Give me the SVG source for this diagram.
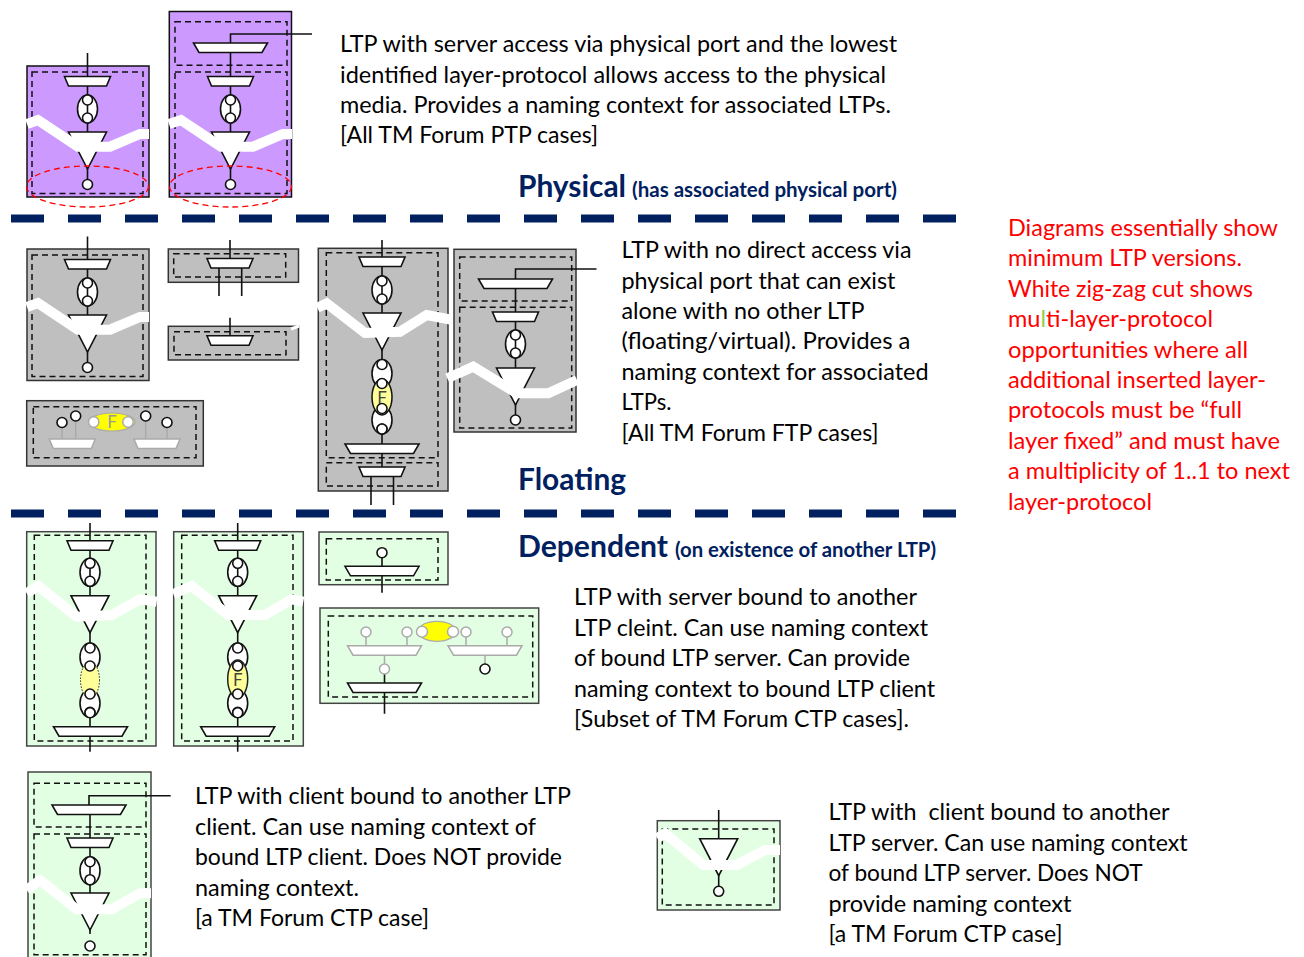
<svg xmlns="http://www.w3.org/2000/svg" width="1304" height="957" viewBox="0 0 1304 957">
<style>
text{font-family:"Lato","Open Sans","Liberation Sans",sans-serif}
.b{font-size:22.2px;fill:#000}
.r{font-size:22.2px;fill:#f00}
.h{font-size:29.5px;font-weight:700;fill:#002060}
.s{font-size:20px;font-weight:700;fill:#002060}
.f{font-size:17px;text-anchor:middle}
.l{fill:none;stroke:#111;stroke-width:1.6}
.g{fill:none;stroke:#aaa;stroke-width:1.5}
.sym{fill:#fff;stroke:#111;stroke-width:1.6}
.gs{fill:#fff;stroke:#aaa;stroke-width:1.5}
.pu{fill:#cc99ff;stroke:#111;stroke-width:1.5}
.gr{fill:#bfbfbf;stroke:#333;stroke-width:1.5}
.gn{fill:#e3ffe3;stroke:#444;stroke-width:1.5}
.d{fill:none;stroke:#111;stroke-width:1.5;stroke-dasharray:6 4}
.z{fill:none;stroke:#fff;stroke-width:10}
.c{fill:none;stroke:#002060;stroke-width:8;stroke-dasharray:33 24}
</style>
<defs>
<path id="T" d="M-23 0H23L19 9.500H-19Z"/>
<path id="W" d="M-37 0H37L31.500 9.500H-31.500Z"/>
<path id="V" d="M-19 0H19L0 37Z"/>
<g id="O">
<ellipse cx="0" cy="0" rx="10" ry="14" class="sym"/>
<path d="M0-9V9" class="l"/>
<circle cx="0" cy="-9" r="5" class="sym"/>
<circle cx="0" cy="9" r="5" class="sym"/>
</g>
<g id="U">
<ellipse cx="0" cy="0" rx="10" ry="14" class="sym"/>
<circle cx="0" cy="-9" r="5" class="sym"/>
</g>
<g id="D">
<ellipse cx="0" cy="0" rx="10" ry="14" class="sym"/>
<circle cx="0" cy="9" r="5" class="sym"/>
</g>
</defs>

<g id="connectors">
<path class="c" d="M11 218.500H956M11 513.500H956"/>
</g>

<g id="node-physical-1">
<rect class="pu" x="27" y="66" width="122" height="131"/>
<rect class="d" x="32" y="72" width="111" height="121.500"/>
<path class="l" d="M87.500 53V180"/>
<use href="#T" class="sym" x="87.500" y="76.500"/>
<use href="#O" x="87.500" y="109"/>
<use href="#V" class="sym" x="87.500" y="132"/>
<circle class="sym" cx="87.500" cy="184.500" r="5"/>
<path class="z" d="M27 124L38 120L78 146.700H110L140 134H149"/>
<ellipse cx="87.500" cy="186.500" rx="61" ry="20.500" fill="none" stroke="#f00" stroke-width="1.300" stroke-dasharray="6 4"/>
</g>

<g id="node-physical-2">
<rect class="pu" x="169.300" y="11.500" width="122.200" height="185.500"/>
<rect class="d" x="175" y="21.700" width="112" height="43.500"/>
<rect class="d" x="175" y="72" width="112" height="121.500"/>
<path class="l" d="M312 34H230.500V180"/>
<use href="#W" class="sym" x="230.500" y="43"/>
<use href="#T" class="sym" x="230.500" y="76.500"/>
<use href="#O" x="230.500" y="109"/>
<use href="#V" class="sym" x="230.500" y="132"/>
<circle class="sym" cx="230.500" cy="184.500" r="5"/>
<path class="z" d="M169 124L181 120L221 146.700H253L283 134H292"/>
<ellipse cx="230.500" cy="186.500" rx="61" ry="20.500" fill="none" stroke="#f00" stroke-width="1.300" stroke-dasharray="6 4"/>
</g>

<g id="node-floating-1">
<rect class="gr" x="27" y="249" width="122" height="131.500"/>
<rect class="d" x="32" y="255" width="111" height="121.500"/>
<path class="l" d="M87.500 236.500V363"/>
<use href="#T" class="sym" x="87.500" y="259.500"/>
<use href="#O" x="87.500" y="292"/>
<use href="#V" class="sym" x="87.500" y="315"/>
<circle class="sym" cx="87.500" cy="367.500" r="5"/>
<path class="z" d="M27 307L38 303L78 329.700H110L140 317H149"/>
</g>

<g id="node-floating-2">
<rect class="gr" x="168.300" y="249" width="130.200" height="33.300"/>
<rect class="d" x="173.700" y="253.700" width="112" height="23.300"/>
<path class="l" d="M230 240V259M219 267.700V296M241.700 267.700V296"/>
<use href="#T" class="sym" x="230" y="258.500"/>
</g>

<g id="node-floating-3">
<rect class="gr" x="168.300" y="326.300" width="130.200" height="33.700"/>
<rect class="d" x="174" y="331.700" width="112" height="23"/>
<path class="l" d="M230 317.700V336"/>
<use href="#T" class="sym" x="230" y="335.700"/>
<path d="M291 329L299 326" fill="none" stroke="#fff" stroke-width="3"/>
</g>

<g id="node-floating-4">
<rect class="gr" x="26.700" y="400.700" width="176.600" height="65.300"/>
<rect class="d" x="33.300" y="406.700" width="162.700" height="51"/>
<path class="g" d="M62 428V439M75.700 421V439M145.700 421V439M167 428V439"/>
<use href="#T" class="gs" x="72.300" y="439"/>
<use href="#T" class="gs" x="157" y="439"/>
<ellipse cx="112" cy="422" rx="23" ry="9" fill="#ffff00" stroke="#aaa" stroke-width="1.200"/>
<text class="f" x="112" y="428" fill="#999">F</text>
<circle class="sym" cx="62" cy="422.500" r="5"/>
<circle class="sym" cx="75.700" cy="416" r="5"/>
<circle class="sym" cx="145.700" cy="416" r="5"/>
<circle class="sym" cx="167" cy="422.500" r="5"/>
<circle class="gs" cx="93.700" cy="422" r="5.200"/>
<circle class="gs" cx="128" cy="422" r="5.200"/>
</g>

<g id="node-floating-5">
<rect class="gr" x="318.300" y="248.300" width="129.700" height="242.700"/>
<rect class="d" x="326.300" y="252.700" width="111.700" height="205"/>
<rect class="d" x="326.300" y="462.700" width="111.700" height="23.300"/>
<path class="l" d="M382 240V467M371 476V505M393.500 476V505"/>
<use href="#T" class="sym" x="382" y="257"/>
<use href="#O" x="382" y="290"/>
<use href="#V" class="sym" x="382" y="313"/>
<use href="#U" x="382" y="373.500"/>
<use href="#D" x="382" y="420"/>
<ellipse cx="382" cy="397" rx="10" ry="18" fill="#ffff99" stroke="#111" stroke-width="1.500"/>
<text class="f" x="382" y="403.500" fill="#444">F</text>
<circle class="sym" cx="382" cy="383.500" r="5"/>
<circle class="sym" cx="382" cy="408.500" r="5"/>
<circle class="sym" cx="382" cy="429" r="5"/>
<use href="#W" class="sym" x="382" y="444"/>
<use href="#T" class="sym" x="382" y="467"/>
<path class="z" d="M317.300 307.700L326.700 303.300L365 333L400 331.700L426.700 315L453 320"/>
</g>

<g id="node-floating-6">
<rect class="gr" x="454" y="249.300" width="122" height="182.700"/>
<rect class="d" x="459.700" y="257" width="112" height="44"/>
<rect class="d" x="459.700" y="307.300" width="112" height="120.700"/>
<path class="l" d="M596.500 269H515.500V415"/>
<use href="#W" class="sym" x="515.500" y="279"/>
<use href="#T" class="sym" x="515.500" y="312"/>
<use href="#O" x="515.500" y="344"/>
<use href="#V" class="sym" x="515.500" y="368"/>
<circle class="sym" cx="515.500" cy="420" r="5"/>
<path class="z" d="M447.300 378.300L473.300 366.700L516.700 393.300H548.300L577 380"/>
</g>

<g id="node-dependent-1">
<rect class="gn" x="26.700" y="531.700" width="129.300" height="214.300"/>
<rect class="d" x="34.300" y="535.300" width="111.700" height="205.700"/>
<path class="l" d="M90 523V751.700"/>
<use href="#T" class="sym" x="90" y="540.700"/>
<use href="#O" x="90" y="572.300"/>
<use href="#V" class="sym" x="90" y="595.700"/>
<use href="#U" x="90" y="657"/>
<use href="#D" x="90" y="703.300"/>
<ellipse cx="90" cy="680" rx="9.500" ry="18" fill="#ffff99" stroke="#222" stroke-width="1" stroke-dasharray="1.500 1.500"/>
<circle class="sym" cx="90" cy="666" r="5"/>
<circle class="sym" cx="90" cy="694" r="5"/>
<circle class="sym" cx="90" cy="712.700" r="5"/>
<use href="#W" class="sym" x="90.500" y="726.700"/>
<path class="z" d="M26.700 593.300L38.300 586L76.700 616.700L111.700 615L140 599.300L156.700 601.700"/>
</g>

<g id="node-dependent-2">
<rect class="gn" x="173.700" y="531.700" width="129.600" height="214.300"/>
<rect class="d" x="181.700" y="535.300" width="111.300" height="205.700"/>
<path class="l" d="M237.700 523V751.700"/>
<use href="#T" class="sym" x="237.700" y="540.700"/>
<use href="#O" x="237.700" y="572.300"/>
<use href="#V" class="sym" x="237.700" y="595.700"/>
<use href="#U" x="237.700" y="657"/>
<use href="#D" x="237.700" y="703.300"/>
<ellipse cx="237.700" cy="679" rx="10" ry="19" fill="#ffff99" stroke="#222" stroke-width="1.500"/>
<text class="f" x="237.700" y="685.500" fill="#444">F</text>
<circle class="sym" cx="237.700" cy="666" r="5"/>
<circle class="sym" cx="237.700" cy="694" r="5"/>
<circle class="sym" cx="237.700" cy="712.700" r="5"/>
<use href="#W" class="sym" x="237.700" y="726.700"/>
<path class="z" d="M173.300 594L191.700 586L228.300 615H265L291.700 599.300L303.300 601.700"/>
</g>

<g id="node-dependent-3">
<rect class="gn" x="319" y="532" width="129" height="52.700"/>
<rect class="d" x="326.300" y="538.700" width="111.700" height="41.300"/>
<path class="l" d="M382 557V566.500M382 576V592.700"/>
<circle class="sym" cx="382" cy="552.700" r="5"/>
<use href="#W" class="sym" x="382" y="566.300"/>
</g>

<g id="node-dependent-4">
<rect class="gn" x="320" y="608" width="218.700" height="95.300"/>
<rect class="d" x="328.300" y="616" width="204.400" height="81"/>
<path class="g" d="M366 637V646M407 637V646M466 637V646M507 637V646M384.500 655V664M485 655V664"/>
<path class="l" d="M384.500 674V683M384.500 692V713.700"/>
<use href="#W" class="gs" x="384.500" y="645.700"/>
<use href="#W" class="gs" x="485" y="645.700"/>
<ellipse cx="437" cy="631.300" rx="19" ry="10" fill="#ffff00" stroke="#aaa" stroke-width="1.200"/>
<circle class="gs" cx="366" cy="632" r="5"/>
<circle class="gs" cx="407" cy="632" r="5"/>
<circle class="gs" cx="466" cy="632" r="5"/>
<circle class="gs" cx="507" cy="632" r="5"/>
<circle class="gs" cx="422" cy="631.700" r="5.500"/>
<circle class="gs" cx="453" cy="631.700" r="5.500"/>
<circle class="gs" cx="384.500" cy="669" r="5"/>
<circle class="sym" cx="485" cy="669" r="5"/>
<use href="#W" class="sym" x="384.500" y="683"/>
</g>

<g id="node-dependent-5">
<rect class="gn" x="28" y="772" width="123" height="190"/>
<rect class="d" x="34" y="783.300" width="112" height="43.700"/>
<rect class="d" x="34" y="834" width="112" height="120.700"/>
<path class="l" d="M170.700 795.700H89V805M90 814V934"/>
<use href="#W" class="sym" x="89" y="805"/>
<use href="#T" class="sym" x="90" y="838"/>
<use href="#O" x="90" y="870.700"/>
<use href="#V" class="sym" x="90" y="893"/>
<circle class="sym" cx="90" cy="946" r="5"/>
<path class="z" d="M26.700 890L40 880L76.700 909.300H111.700L140 893.300H151"/>
</g>

<g id="node-dependent-6">
<rect class="gn" x="657.300" y="820.700" width="122.700" height="89.300"/>
<rect class="d" x="662.300" y="829" width="111.700" height="76"/>
<path class="l" d="M718.700 810V887"/>
<use href="#V" class="sym" x="718.700" y="838.700"/>
<circle class="sym" cx="718.700" cy="891.300" r="5"/>
<path class="z" d="M657.300 838.300L665 833.300L703.300 865H736.700L765 850H780"/>
</g>

<g id="labels">
<text class="b" x="340" y="52" textLength="557" lengthAdjust="spacingAndGlyphs">LTP with server access via physical port and the lowest</text>
<text class="b" x="340" y="82.500" textLength="546" lengthAdjust="spacingAndGlyphs">identified layer-protocol allows access to the physical</text>
<text class="b" x="340" y="113" textLength="551" lengthAdjust="spacingAndGlyphs">media. Provides a naming context for associated LTPs.</text>
<text class="b" x="340" y="143" textLength="258" lengthAdjust="spacingAndGlyphs">[All TM Forum PTP cases]</text>

<text class="h" x="518" y="197" textLength="108" lengthAdjust="spacingAndGlyphs">Physical</text>
<text class="s" x="632" y="197" textLength="265" lengthAdjust="spacingAndGlyphs">(has associated physical port)</text>

<text class="b" x="621.500" y="258" textLength="290" lengthAdjust="spacingAndGlyphs">LTP with no direct access via</text>
<text class="b" x="621.500" y="288.500" textLength="274" lengthAdjust="spacingAndGlyphs">physical port that can exist</text>
<text class="b" x="621.500" y="319" textLength="243" lengthAdjust="spacingAndGlyphs">alone with no other LTP</text>
<text class="b" x="621.500" y="349" textLength="289" lengthAdjust="spacingAndGlyphs">(floating/virtual). Provides a</text>
<text class="b" x="621.500" y="379.500" textLength="307" lengthAdjust="spacingAndGlyphs">naming context for associated</text>
<text class="b" x="621.500" y="410" textLength="50" lengthAdjust="spacingAndGlyphs">LTPs.</text>
<text class="b" x="621.500" y="440.500" textLength="257" lengthAdjust="spacingAndGlyphs">[All TM Forum FTP cases]</text>

<text class="h" x="518" y="490" textLength="108" lengthAdjust="spacingAndGlyphs">Floating</text>
<text class="h" x="518" y="557" textLength="150" lengthAdjust="spacingAndGlyphs">Dependent</text>
<text class="s" x="675" y="557" textLength="261" lengthAdjust="spacingAndGlyphs">(on existence of another LTP)</text>

<text class="b" x="574" y="605" textLength="343" lengthAdjust="spacingAndGlyphs">LTP with server bound to another</text>
<text class="b" x="574" y="635.500" textLength="354" lengthAdjust="spacingAndGlyphs">LTP cleint. Can use naming context</text>
<text class="b" x="574" y="666" textLength="336" lengthAdjust="spacingAndGlyphs">of bound LTP server. Can provide</text>
<text class="b" x="574" y="696.500" textLength="361" lengthAdjust="spacingAndGlyphs">naming context to bound LTP client</text>
<text class="b" x="574" y="727" textLength="335" lengthAdjust="spacingAndGlyphs">[Subset of TM Forum CTP cases].</text>

<text class="b" x="195" y="804" textLength="376" lengthAdjust="spacingAndGlyphs">LTP with client bound to another LTP</text>
<text class="b" x="195" y="834.500" textLength="341" lengthAdjust="spacingAndGlyphs">client. Can use naming context of</text>
<text class="b" x="195" y="865" textLength="367" lengthAdjust="spacingAndGlyphs">bound LTP client. Does NOT provide</text>
<text class="b" x="195" y="895.500" textLength="164" lengthAdjust="spacingAndGlyphs">naming context.</text>
<text class="b" x="195" y="926" textLength="234" lengthAdjust="spacingAndGlyphs">[a TM Forum CTP case]</text>

<text class="b" x="828.500" y="820" textLength="341" lengthAdjust="spacingAndGlyphs" style="white-space:pre">LTP with  client bound to another</text>
<text class="b" x="828.500" y="850.500" textLength="359" lengthAdjust="spacingAndGlyphs">LTP server. Can use naming context</text>
<text class="b" x="828.500" y="881" textLength="314" lengthAdjust="spacingAndGlyphs">of bound LTP server. Does NOT</text>
<text class="b" x="828.500" y="911.500" textLength="243" lengthAdjust="spacingAndGlyphs">provide naming context</text>
<text class="b" x="828.500" y="942" textLength="234" lengthAdjust="spacingAndGlyphs">[a TM Forum CTP case]</text>

<text class="r" x="1008" y="236" textLength="270" lengthAdjust="spacingAndGlyphs">Diagrams essentially show</text>
<text class="r" x="1008" y="266" textLength="234" lengthAdjust="spacingAndGlyphs">minimum LTP versions.</text>
<text class="r" x="1008" y="296.500" textLength="245" lengthAdjust="spacingAndGlyphs">White zig-zag cut shows</text>
<text class="r" x="1008" y="326.500" textLength="205" lengthAdjust="spacingAndGlyphs">mu<tspan fill="#92d050">l</tspan>ti-layer-protocol</text>
<text class="r" x="1008" y="357.500" textLength="240" lengthAdjust="spacingAndGlyphs">opportunities where all</text>
<text class="r" x="1008" y="387.500" textLength="258" lengthAdjust="spacingAndGlyphs">additional inserted layer-</text>
<text class="r" x="1008" y="418" textLength="234" lengthAdjust="spacingAndGlyphs">protocols must be “full</text>
<text class="r" x="1008" y="448.500" textLength="272" lengthAdjust="spacingAndGlyphs">layer fixed” and must have</text>
<text class="r" x="1008" y="479" textLength="282" lengthAdjust="spacingAndGlyphs">a multiplicity of 1..1 to next</text>
<text class="r" x="1008" y="509.500" textLength="144" lengthAdjust="spacingAndGlyphs">layer-protocol</text>
</g>
</svg>
